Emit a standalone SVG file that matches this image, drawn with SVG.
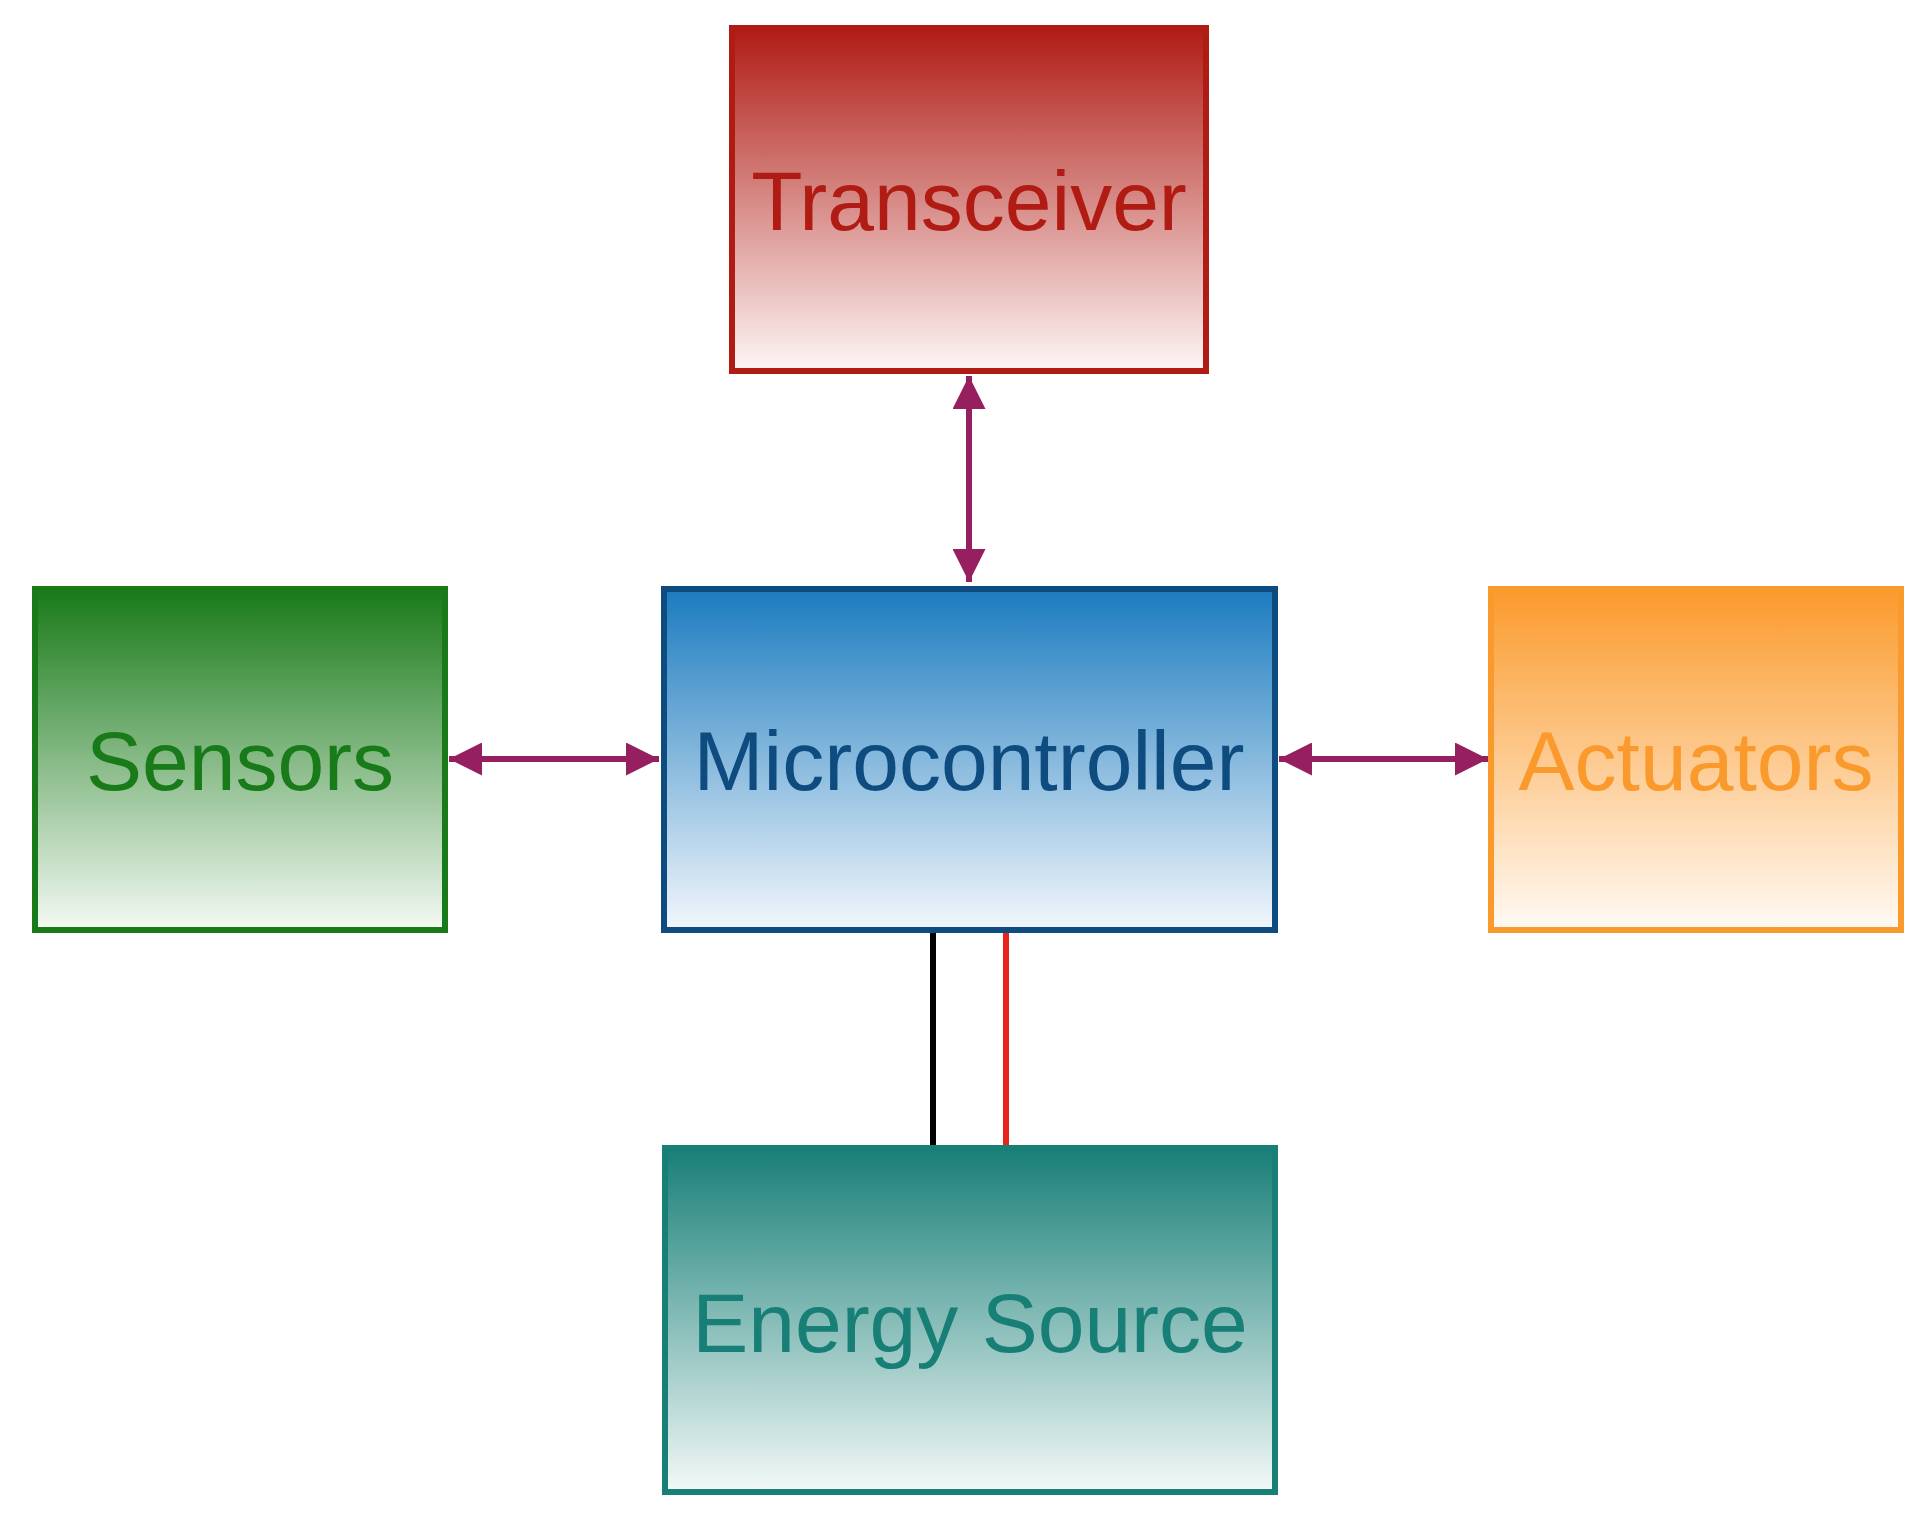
<svg xmlns="http://www.w3.org/2000/svg" width="1928" height="1514" viewBox="0 0 1928 1514">
<defs>
<linearGradient id="gr" x1="0" y1="0" x2="0" y2="1"><stop offset="0" stop-color="#b01c14"/><stop offset="1" stop-color="#fdf6f6"/></linearGradient>
<linearGradient id="gg" x1="0" y1="0" x2="0" y2="1"><stop offset="0" stop-color="#187a18"/><stop offset="1" stop-color="#f4f9f4"/></linearGradient>
<linearGradient id="gb" x1="0" y1="0" x2="0" y2="1"><stop offset="0" stop-color="#1b7bbf"/><stop offset="1" stop-color="#f2f7fc"/></linearGradient>
<linearGradient id="go" x1="0" y1="0" x2="0" y2="1"><stop offset="0" stop-color="#fb9a2c"/><stop offset="1" stop-color="#fffaf4"/></linearGradient>
<linearGradient id="gt" x1="0" y1="0" x2="0" y2="1"><stop offset="0" stop-color="#187f77"/><stop offset="1" stop-color="#f3f9f8"/></linearGradient>
<marker id="ah" viewBox="0 0 10 10" refX="10" refY="5" markerWidth="5.5" markerHeight="5.5" orient="auto-start-reverse" markerUnits="strokeWidth"><path d="M0,0L10,5L0,10z" fill="#96205f"/></marker>
</defs>
<style>
text{font-family:"Liberation Sans",Arial,sans-serif;font-size:84px;text-anchor:middle}
rect{stroke-width:6}
</style>
<rect width="1928" height="1514" fill="#fff"/>
<g id="connectors">
<line x1="969" y1="376" x2="969" y2="582" stroke="#96205f" stroke-width="6" marker-start="url(#ah)" marker-end="url(#ah)"/>
<line x1="449" y1="759" x2="659" y2="759" stroke="#96205f" stroke-width="6" marker-start="url(#ah)" marker-end="url(#ah)"/>
<line x1="1279" y1="759" x2="1488" y2="759" stroke="#96205f" stroke-width="6" marker-start="url(#ah)" marker-end="url(#ah)"/>
<line x1="933" y1="931" x2="933" y2="1147" stroke="#000" stroke-width="6"/>
<line x1="1006" y1="931" x2="1006" y2="1147" stroke="#e8231c" stroke-width="6"/>
</g>
<g id="transceiver"><rect x="732" y="28" width="474" height="343" fill="url(#gr)" stroke="#b01c14"/><text x="969" y="230" fill="#b01c14">Transceiver</text></g>
<g id="sensors"><rect x="35" y="589" width="410" height="341" fill="url(#gg)" stroke="#187a18"/><text x="240" y="790" fill="#187a18">Sensors</text></g>
<g id="microcontroller"><rect x="664" y="589" width="611" height="341" fill="url(#gb)" stroke="#0e4c80"/><text x="969" y="790" fill="#0e4c80">Microcontroller</text></g>
<g id="actuators"><rect x="1491" y="589" width="410" height="341" fill="url(#go)" stroke="#fb9a2c"/><text x="1696" y="790" fill="#fb9a2c">Actuators</text></g>
<g id="energy"><rect x="665" y="1148" width="610" height="344" fill="url(#gt)" stroke="#187f77"/><text x="970" y="1352" fill="#187f77">Energy Source</text></g>
</svg>
